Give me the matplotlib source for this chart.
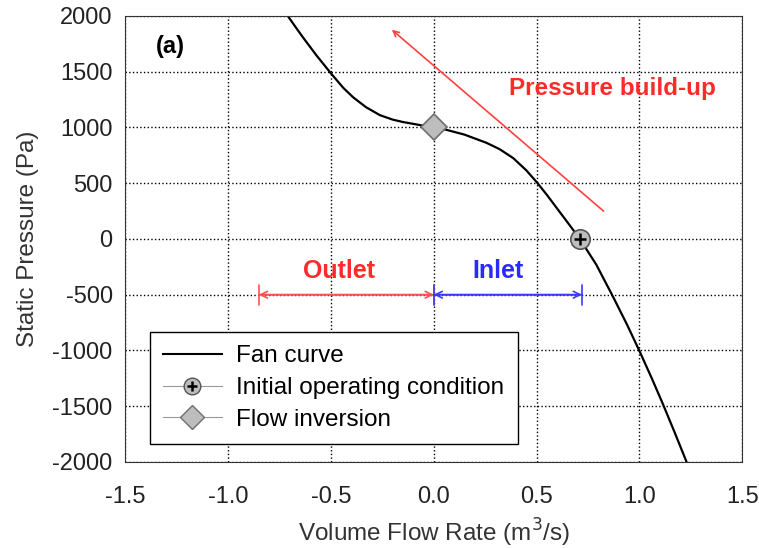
import matplotlib.pyplot as plt
from matplotlib.lines import Line2D

plt.rcParams['font.family'] = ['Liberation Sans', 'DejaVu Sans']
plt.rcParams['axes.unicode_minus'] = False

# fan curve
flow = [-0.71, -0.67, -0.635, -0.57, -0.5, -0.44, -0.392, -0.33, -0.262, -0.2,
        -0.149, -0.1, -0.052, 0.0, 0.062, 0.15, 0.256, 0.32, 0.386, 0.45, 0.5,
        0.55, 0.6, 0.655, 0.71, 0.79, 0.872, 0.94, 1.0, 1.06, 1.115, 1.17, 1.228]
pressure = [2000, 1895, 1805, 1645, 1485, 1355, 1270, 1182, 1110, 1070,
            1048, 1032, 1016, 1000, 978, 935, 862, 805, 725, 615, 510,
            395, 272, 137, 0, -230, -520, -770, -1005, -1250, -1485, -1730, -1995]

op_point = (0.71, 0)
inversion = (0.0, 1000)

# flow-direction spans
outlet_span = (-0.85, 0.0)
inlet_span = (0.0, 0.72)
span_level = -500

fig = plt.figure(figsize=(7.59, 5.48), dpi=100)
ax = fig.add_axes([0.165, 0.157, 0.813, 0.814])

ax.plot(flow, pressure, color='black', lw=1.6, solid_joinstyle='round')
ax.plot(*inversion, marker='D', ms=13, mfc='#bdbdbd', mec='#6e6e6e', mew=1.2)
ax.plot(*op_point, marker='o', ms=14, mfc='#bdbdbd', mec='#555555', mew=1.2)
ax.plot(*op_point, marker='+', ms=8, color='black', mew=1.8)

# pressure build-up arrow
ax.annotate('', xy=(-0.214, 1892), xytext=(0.836, 233),
            arrowprops=dict(arrowstyle='->', color='#ff4040', lw=1.2))
ax.text(0.87, 1345, 'Pressure build-up', color='#ff2a2a', fontsize=17.5,
        fontweight='bold', ha='center', va='center')


def span(x0, x1, col):
    ax.annotate('', xy=(x0, span_level), xytext=(x1, span_level),
                arrowprops=dict(arrowstyle='<->', color=col, lw=1.2,
                                mutation_scale=12, shrinkA=0, shrinkB=0))
    ax.annotate('', xy=(x0, span_level), xytext=(x1, span_level),
                arrowprops=dict(arrowstyle='|-|, widthA=0.6, widthB=0.6', color=col,
                                lw=1.2, mutation_scale=12, shrinkA=0, shrinkB=0))


span(*outlet_span, '#ff5050')
span(*inlet_span, '#3a3aff')
ax.text(-0.46, -290, 'Outlet', color='#ff2a2a', fontsize=18, fontweight='bold',
        ha='center', va='center')
ax.text(0.31, -290, 'Inlet', color='#2a2aff', fontsize=18, fontweight='bold',
        ha='center', va='center')

ax.text(-1.28, 1730, '(a)', fontsize=17, fontweight='bold', ha='center', va='center')

ax.set_xlim(-1.5, 1.5)
ax.set_ylim(-2000, 2000)
ax.set_xticks([-1.5, -1.0, -0.5, 0.0, 0.5, 1.0, 1.5])
ax.set_xticklabels(['-1.5', '-1.0', '-0.5', '0.0', '0.5', '1.0', '1.5'])
ax.set_yticks(range(-2000, 2001, 500))
ax.tick_params(labelsize=17, length=0, labelcolor='#222222')
ax.tick_params(axis='x', pad=17)
ax.tick_params(axis='y', pad=9)
ax.grid(True, color='black', linestyle=':', lw=1)
for s in ax.spines.values():
    s.set_color('#333333')
ax.set_xlabel('Volume Flow Rate (m$^3$/s)', fontsize=17.5, color='#333333', labelpad=7)
ax.set_ylabel('Static Pressure (Pa)', fontsize=17.5, color='#333333', labelpad=10)

handles = [
    Line2D([], [], color='black', lw=1.5),
    (Line2D([], [], color='#999999', lw=0.8, marker='o', ms=12, mfc='#bdbdbd', mec='#555555'),
     Line2D([], [], ls='none', marker='+', ms=7, color='black', mew=1.8)),
    Line2D([], [], color='#999999', lw=0.8, marker='D', ms=12, mfc='#bdbdbd', mec='#6e6e6e'),
]
labels = ['Fan curve', 'Initial operating condition', 'Flow inversion']
leg = ax.legend(handles, labels, loc='lower left', bbox_to_anchor=(0.04, 0.04),
                borderaxespad=0, fontsize=17.5, fancybox=False, edgecolor='black',
                framealpha=1, handlelength=2.4, borderpad=0.55, labelspacing=0.4,
                handletextpad=0.6)
leg.get_frame().set_linewidth(1.0)

fig.savefig('out.png', dpi=100)
